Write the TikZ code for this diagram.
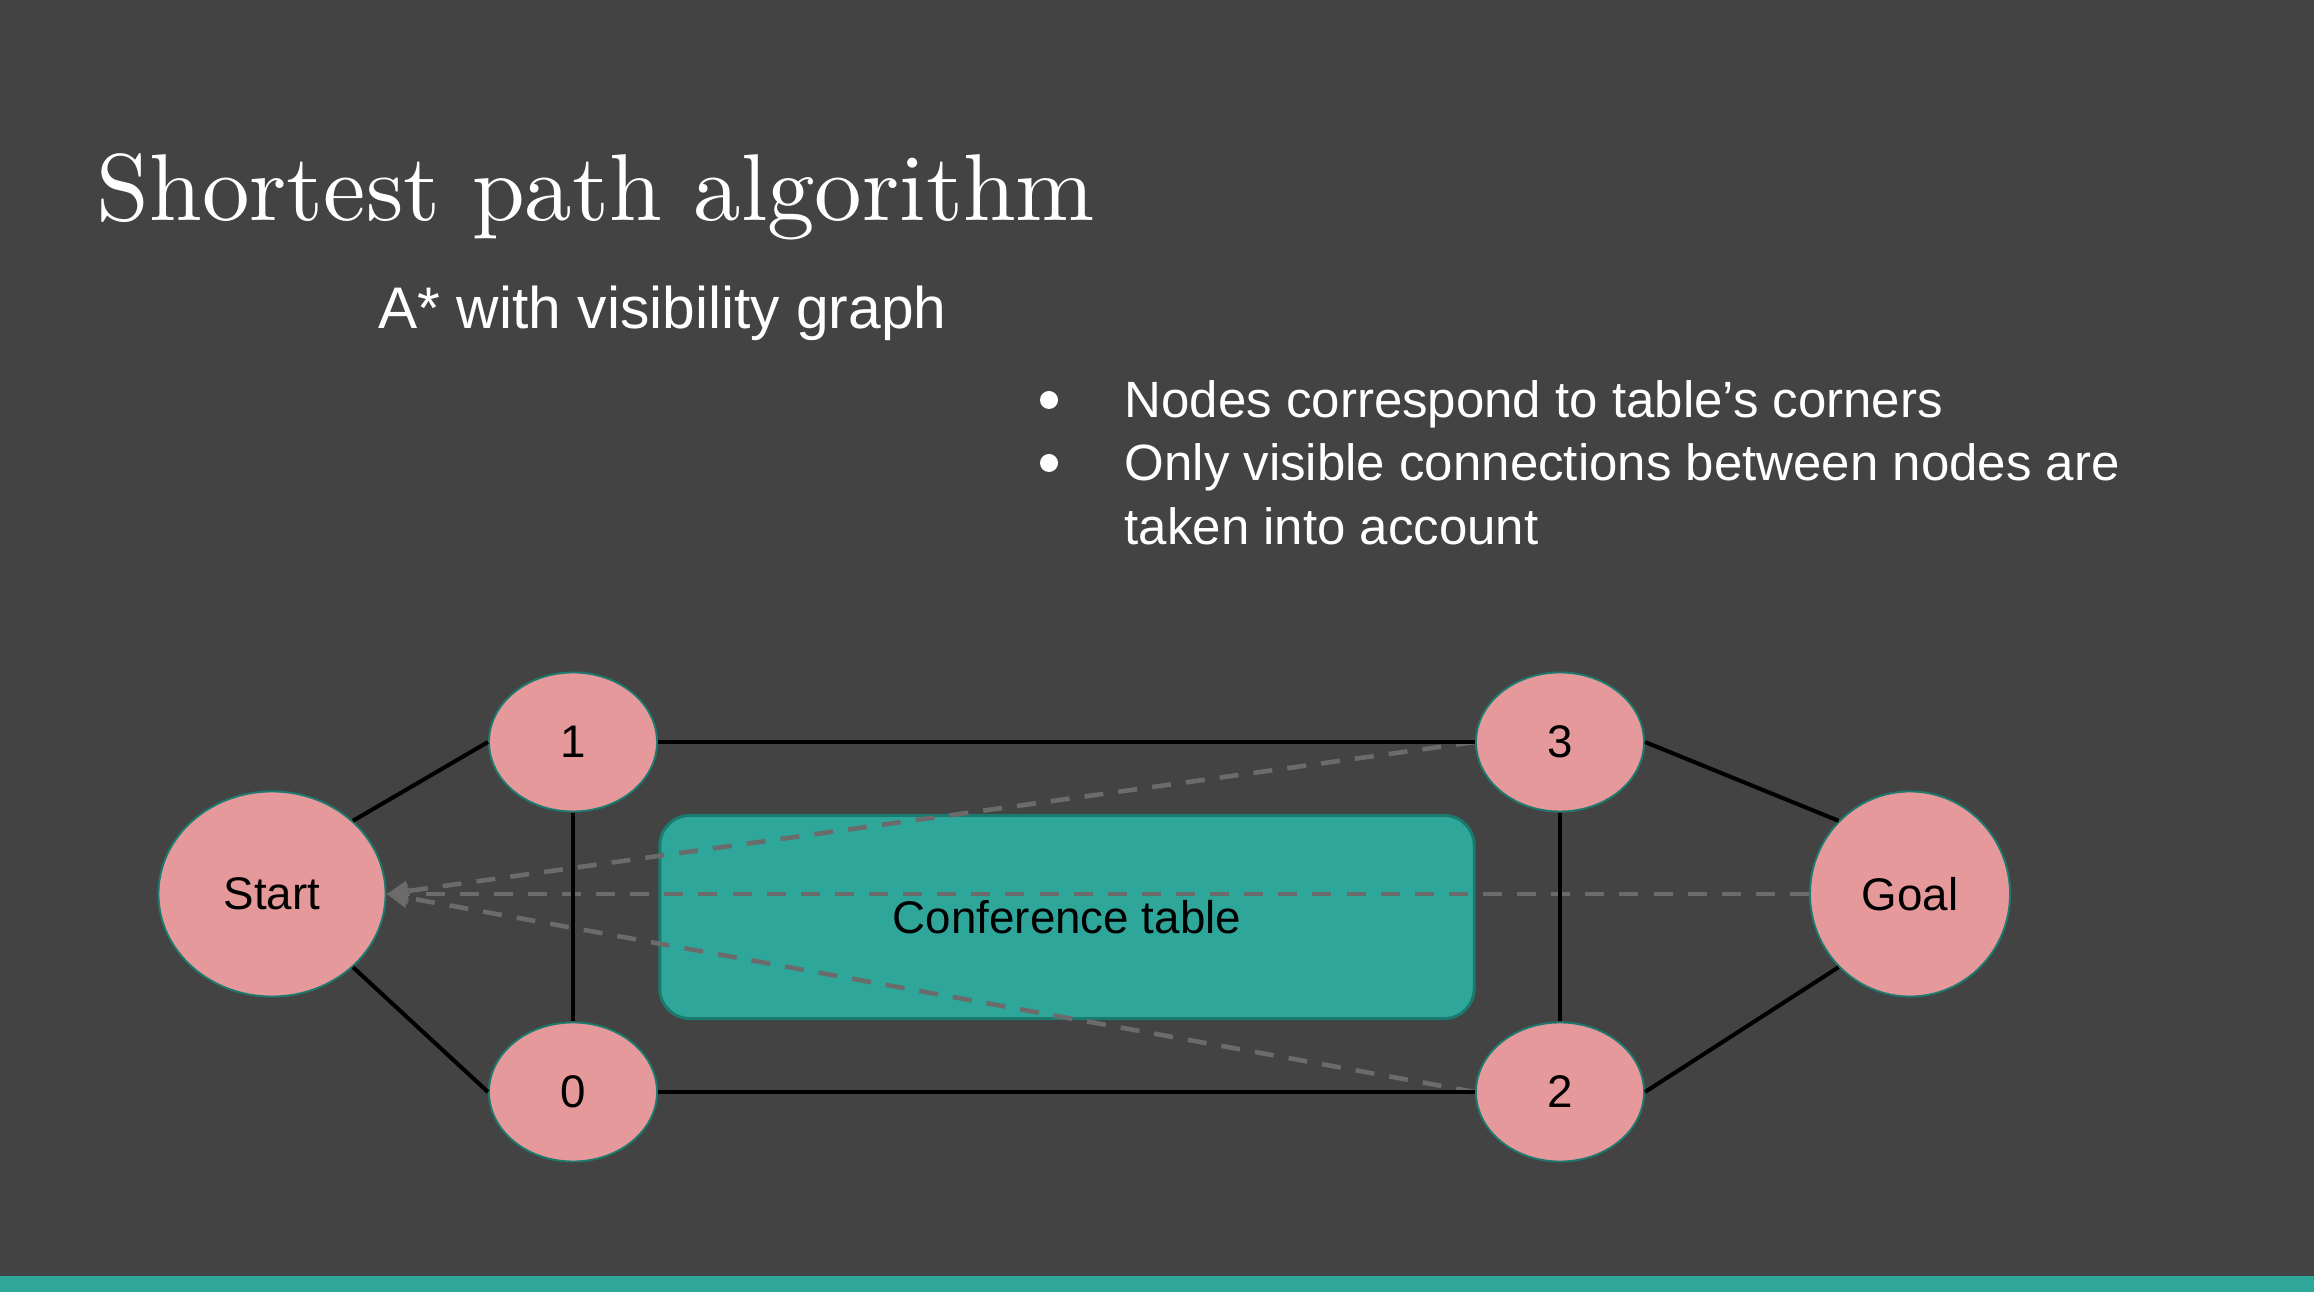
\documentclass[tikz,border=0pt]{standalone}
\usepackage{fontspec}
\newfontfamily\uisans{Liberation Sans}
\newfontfamily\titlefont{lmroman10-regular}[Extension=.otf]
\usetikzlibrary{shapes.geometric,arrows.meta}
\definecolor{slidebg}{HTML}{434343}
\definecolor{accent}{HTML}{2FA69A}
\definecolor{nodefill}{HTML}{E6999A}
\definecolor{nodeline}{HTML}{1E7A6F}
\definecolor{tablefill}{HTML}{2EA699}
\definecolor{tableline}{HTML}{1B7A6E}
\definecolor{sightline}{HTML}{6B6B6B}

\begin{document}
\begin{tikzpicture}[x=0.01cm,y=-0.01cm,
  vertex/.style={ellipse,draw=nodeline,line width=0.55pt,fill=nodefill,inner sep=0pt,
    text=black,font=\uisans\fontsize{13}{15}\selectfont},
  corner/.style={vertex,minimum width=1.68cm,minimum height=1.39cm},
  edge/.style={line width=1.15pt,draw=black},
  sight/.style={line width=1.3pt,draw=sightline,dash pattern=on 5.4pt off 4.3pt,
    -{Triangle[length=6pt,width=5.5pt,fill=sightline]}},
  headtext/.style={text=white,inner sep=0pt,anchor=base west},
  bodytext/.style={headtext,font=\uisans\fontsize{14.5}{18}\selectfont}
]
% slide background and accent band
\fill[slidebg] (0,0) rectangle (2314,1292);
\useasboundingbox (0,0) rectangle (2314,1292);
\fill[accent] (0,1276) rectangle (2314,1292);

% headings
\node[headtext,font=\titlefont\fontsize{27}{30}\selectfont] (title) at (96,221) {Shortest path algorithm};
\node[headtext,font=\uisans\fontsize{16.7}{20}\selectfont] (subtitle) at (378,329) {A* with visibility graph};

% bullet list
\fill[white] (1049,400) circle (9);
\fill[white] (1049,463) circle (9);
\node[bodytext] (b1) at (1124,418) {Nodes correspond to table’s\ corners};
\node[bodytext] (b2) at (1124,481) {Only visible connections between nodes are};
\node[bodytext] (b3) at (1124,545) {taken into account};

% obstacle
\node[draw=tableline,line width=0.85pt,fill=tablefill,rounded corners=0.3cm,
  minimum width=8.14cm,minimum height=2.03cm,inner sep=0pt,
  font=\uisans\fontsize{13}{15}\selectfont,text=black] (table) at (1067,917) {Conference table};

% graph vertices
\node[vertex,minimum width=2.27cm,minimum height=2.05cm] (start) at (272,894) {Start};
\node[vertex,minimum width=2.0cm,minimum height=2.05cm] (goal) at (1910,894) {Goal};
\node[corner] (n1) at (573,742) {1};
\node[corner] (n0) at (573,1092) {0};
\node[corner] (n3) at (1560,742) {3};
\node[corner] (n2) at (1560,1092) {2};

% blocked lines of sight
\draw[sight] (n3.west) -- (start.east);
\draw[sight] (goal.west) -- (start.east);
\draw[sight] (n2.west) -- (start.east);

% visibility edges
\draw[edge] (start.north east) -- (n1.west);
\draw[edge] (start.south east) -- (n0.west);
\draw[edge] (n1.east) -- (n3.west);
\draw[edge] (n0.east) -- (n2.west);
\draw[edge] (n1.south) -- (n0.north);
\draw[edge] (n3.south) -- (n2.north);
\draw[edge] (n3.east) -- (goal.north west);
\draw[edge] (n2.east) -- (goal.south west);
\end{tikzpicture}
\end{document}
